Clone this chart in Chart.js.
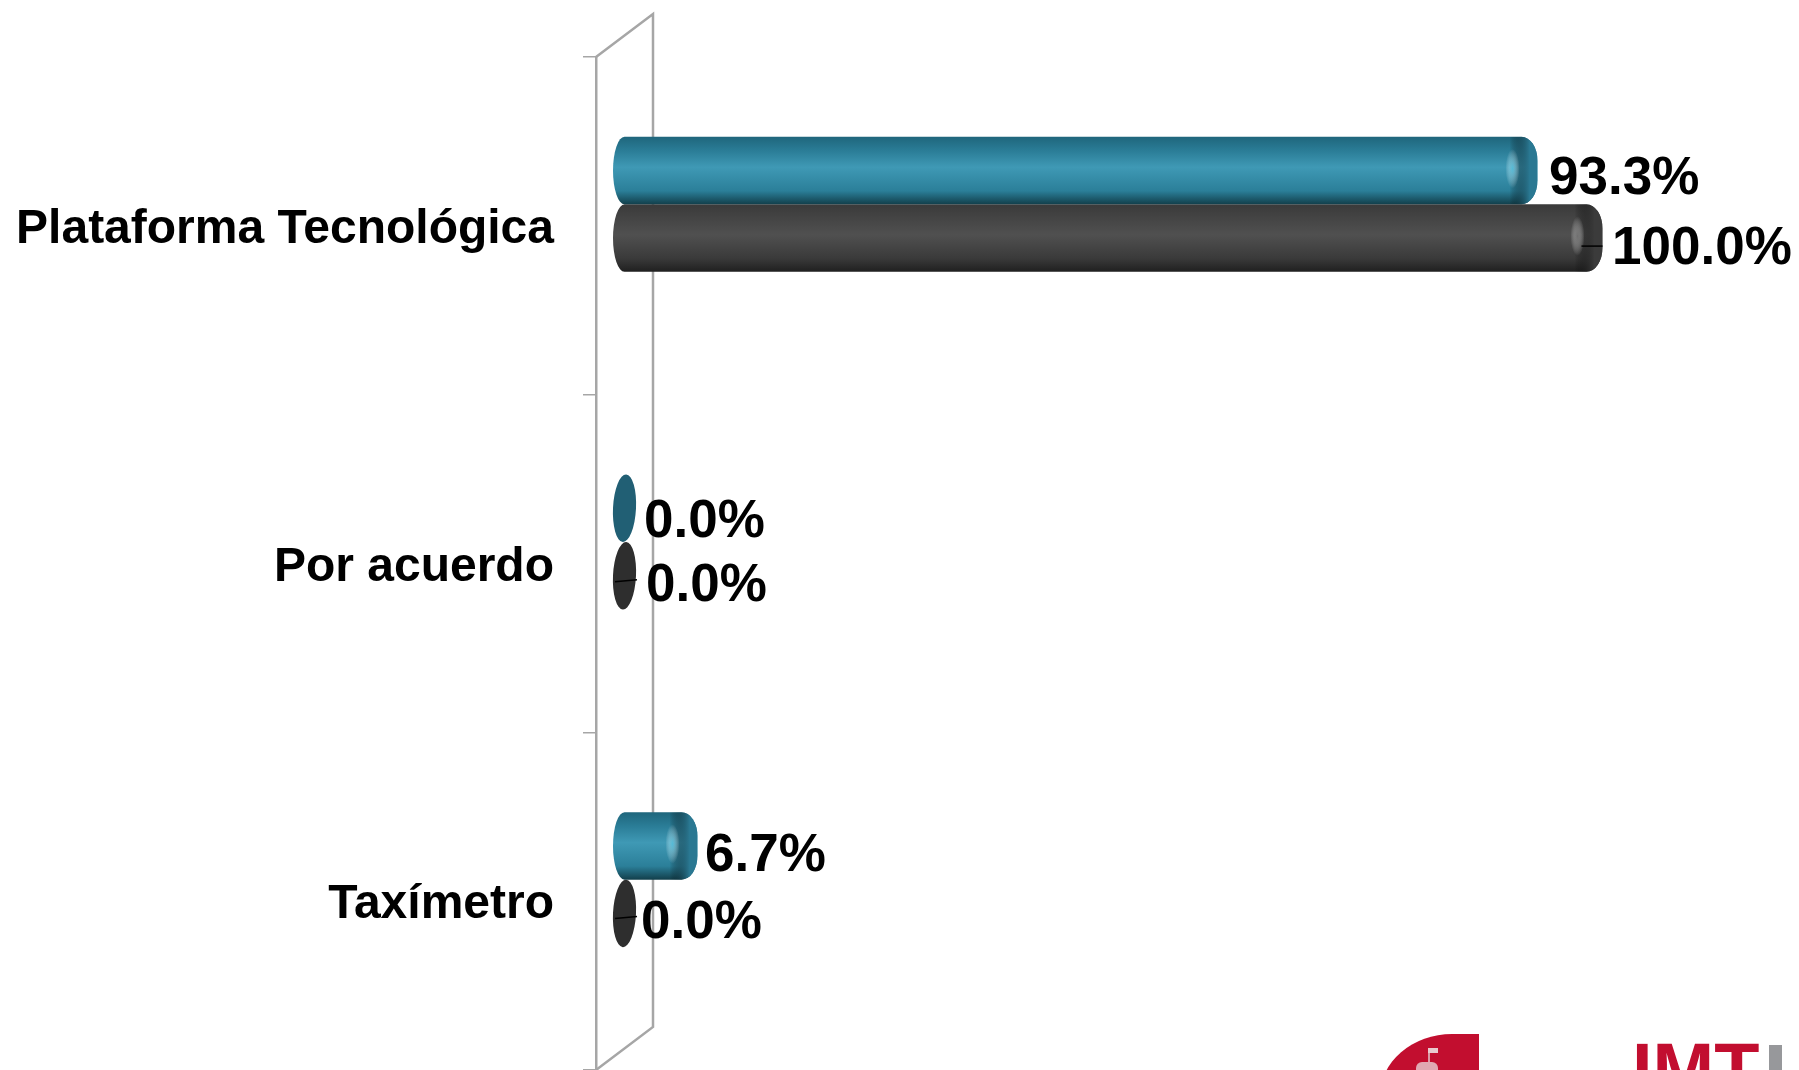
<!DOCTYPE html>
<html>
<head>
<meta charset="utf-8">
<title>Chart</title>
<script src="https://cdn.jsdelivr.net/npm/chart.js@4/dist/chart.umd.min.js"></script>
<style>
  html, body { margin: 0; padding: 0; background: #fff; overflow: hidden; }
  #wrap { position: relative; width: 1799px; height: 1070px; overflow: hidden; }
  #logo-shape { position: absolute; left: 1380px; top: 1034px; width: 99px; height: 100px; background: #c20e2f; border-top-left-radius: 72px 62px; }
  #logo-flag { position: absolute; left: 1428px; top: 1048px; width: 10px; height: 5px; background: #e8c9ce; }
  #logo-pole { position: absolute; left: 1428px; top: 1050px; width: 2px; height: 14px; background: #dc9aa6; }
  #logo-base { position: absolute; left: 1416px; top: 1062px; width: 22px; height: 8px; background: #e0a8b2; border-radius: 6px 6px 0 0; }
  #logo-text { position: absolute; left: 1632px; top: 1032px; font: bold 74px/76px "Liberation Sans", sans-serif; color: #c20e2f; }
  #logo-bar { position: absolute; left: 1769px; top: 1045px; width: 13px; height: 25px; background: #97989b; }
</style>
</head>
<body>
<div id="wrap">
  <canvas id="chart" width="1799" height="1070"></canvas>
  <div id="logo-shape"></div>
  <div id="logo-pole"></div>
  <div id="logo-flag"></div>
  <div id="logo-base"></div>
  <div id="logo-text">IMT</div>
  <div id="logo-bar"></div>
</div>
<script>
const categories = ["Plataforma Tecnológica", "Por acuerdo", "Taxímetro"];
const tealValues = [93.3, 0.0, 6.7];
const darkValues = [100.0, 0.0, 0.0];

// 3D look of the original: wall depth, bars sit halfway into it
const depthX = 57;
const depthY = -43;
const capRadius = 11.5;
const endTrim = 3.5;

// hand placed label offsets from the bar end (x, y), one per category
const tealNudge = [[11.5, 9], [8, 14], [7.5, 10.5]];
const darkNudge = [[9.5, 11.5], [10, 11], [5, 10]];
const leaderY = [8, 4, 3];

const wallColor = "#a6a6a6";

const palettes = [
  { stops: ["#1f667c", "#2a7c96", "#3f99b5", "#2b7f99", "#123f4b"], flat: "#215f74", cap: "#2a7892", glow: "rgba(90,200,230,0.8)" },
  { stops: ["#3a3a3a", "#444444", "#505050", "#3a3a3a", "#1f1f1f"], flat: "#2e2e2e", cap: "#3b3b3b", glow: "rgba(125,125,125,0.75)" },
];

function barEnd(bar, value) {
  return bar.x + depthX / 2 + capRadius - (value === 0 ? 0 : endTrim);
}

function cylinderPath(ctx, left, right, top, bottom) {
  const mid = (top + bottom) / 2;
  const half = (bottom - top) / 2;
  const rx = 16;
  const ry = 24;
  ctx.beginPath();
  ctx.moveTo(left + capRadius, top);
  ctx.lineTo(right - rx, top);
  ctx.ellipse(right - rx, top + ry, rx, ry, 0, -Math.PI / 2, 0);
  ctx.lineTo(right, bottom - ry);
  ctx.ellipse(right - rx, bottom - ry, rx, ry, 0, 0, Math.PI / 2);
  ctx.lineTo(left + capRadius, bottom);
  ctx.ellipse(left + capRadius, mid, capRadius, half, 0, Math.PI / 2, Math.PI * 1.5);
  ctx.closePath();
}

function drawBar(ctx, bar, value, pal) {
  const top = bar.y + depthY / 2 - bar.height / 2;
  const bottom = top + bar.height;
  const mid = (top + bottom) / 2;
  const left = bar.base + depthX / 2 - capRadius;
  const right = barEnd(bar, value);

  ctx.save();
  if (value === 0) {
    ctx.translate((left + right) / 2, mid);
    ctx.rotate(0.05);
    ctx.beginPath();
    ctx.ellipse(0, 0, capRadius, bar.height / 2, 0, 0, Math.PI * 2);
    ctx.fillStyle = pal.flat;
    ctx.fill();
    ctx.restore();
    return;
  }

  cylinderPath(ctx, left, right, top, bottom);
  const grad = ctx.createLinearGradient(0, top, 0, bottom);
  pal.stops.forEach((c, i) => grad.addColorStop([0, 0.2, 0.45, 0.8, 1][i], c));
  ctx.fillStyle = grad;
  ctx.fill();
  ctx.clip();

  // round end of the bar
  const capGrad = ctx.createLinearGradient(right - 28, 0, right - 8, 0);
  capGrad.addColorStop(0, "rgba(0,0,0,0)");
  capGrad.addColorStop(1, pal.cap);
  ctx.fillStyle = capGrad;
  ctx.fillRect(right - 28, top, 28, bar.height);

  ctx.translate(right - 25, mid - 2);
  ctx.scale(1, 2.8);
  const glow = ctx.createRadialGradient(0, 0, 0, 0, 0, 7);
  glow.addColorStop(0, pal.glow);
  glow.addColorStop(1, "rgba(255,255,255,0)");
  ctx.fillStyle = glow;
  ctx.beginPath();
  ctx.arc(0, 0, 7, 0, Math.PI * 2);
  ctx.fill();
  ctx.restore();
}

const cylinderPlugin = {
  id: "cylinders",
  beforeDatasetsDraw(chart) {
    // back edge and floor/ceiling of the wall
    const { ctx, chartArea } = chart;
    const x = chartArea.left;
    ctx.save();
    ctx.strokeStyle = wallColor;
    ctx.lineWidth = 2.5;
    ctx.beginPath();
    ctx.moveTo(x, chartArea.top);
    ctx.lineTo(x + depthX, chartArea.top + depthY);
    ctx.lineTo(x + depthX, chartArea.bottom + depthY);
    ctx.lineTo(x, chartArea.bottom);
    ctx.stroke();
    ctx.restore();
  },
  beforeDatasetDraw(chart, args) {
    const meta = chart.getDatasetMeta(args.index);
    const values = chart.data.datasets[args.index].data;
    meta.data.forEach((bar, i) => drawBar(chart.ctx, bar, values[i], palettes[args.index]));
    return false;
  },
  afterDatasetsDraw(chart) {
    const { ctx } = chart;
    ctx.save();
    ctx.font = 'bold 53px "Liberation Sans", sans-serif';
    ctx.fillStyle = "#000";
    ctx.textBaseline = "middle";
    chart.data.datasets.forEach((ds, d) => {
      const nudge = d === 0 ? tealNudge : darkNudge;
      chart.getDatasetMeta(d).data.forEach((bar, i) => {
        const endX = barEnd(bar, ds.data[i]);
        const midY = bar.y + depthY / 2;
        // leader line of the dark series
        if (d === 1) {
          ctx.strokeStyle = "#000";
          ctx.lineWidth = 1.5;
          ctx.beginPath();
          ctx.moveTo(endX - 21, midY + leaderY[i] + (ds.data[i] === 0 ? 2 : 0));
          ctx.lineTo(endX + (ds.data[i] === 0 ? 1 : 0), midY + leaderY[i]);
          ctx.stroke();
        }
        ctx.fillText(ds.data[i].toFixed(1) + "%", endX + nudge[i][0], midY + nudge[i][1]);
      });
    });
    ctx.restore();
  },
};

new Chart(document.getElementById("chart"), {
  type: "bar",
  data: {
    labels: categories,
    datasets: [
      { label: "Serie 1", data: tealValues, backgroundColor: "#2a7c96" },
      { label: "Serie 2", data: darkValues, backgroundColor: "#444444" },
    ],
  },
  options: {
    indexAxis: "y",
    responsive: false,
    animation: false,
    categoryPercentage: 0.4,
    barPercentage: 1,
    layout: { padding: { top: 57, bottom: 0, right: 233, left: 0 } },
    plugins: { legend: { display: false }, tooltip: { enabled: false } },
    scales: {
      x: { display: false, min: 0, max: 100 },
      y: {
        offset: true,
        afterFit(scale) {
          scale.width = 596;
          scale.paddingTop = 0;
          scale.paddingBottom = 0;
        },
        border: { display: true, color: wallColor, width: 2.5 },
        grid: { drawOnChartArea: false, drawTicks: true, tickLength: 13, color: wallColor, lineWidth: 1.5, offset: true },
        ticks: {
          color: "#000",
          padding: 29,
          labelOffset: 4,
          autoSkip: false,
          font: { family: '"Liberation Sans", sans-serif', size: 48, weight: "bold" },
        },
      },
    },
  },
  plugins: [cylinderPlugin],
});
</script>
</body>
</html>
